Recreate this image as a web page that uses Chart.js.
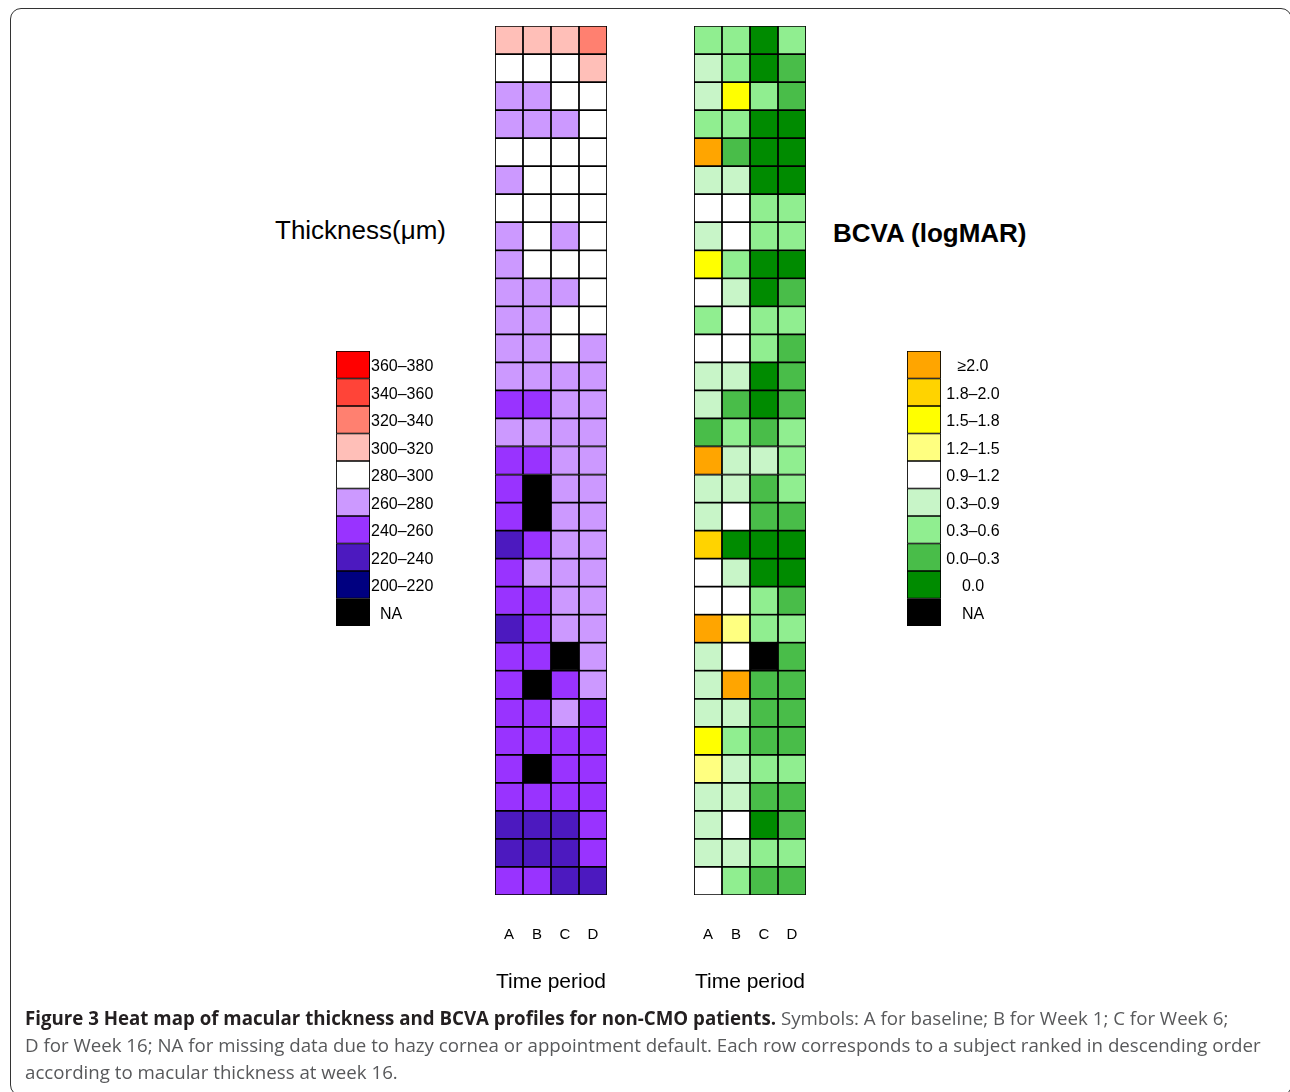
<!DOCTYPE html>
<html>
<head>
<meta charset="utf-8">
<script src="https://cdn.jsdelivr.net/npm/chart.js@4.4.0/dist/chart.umd.min.js"></script>
<style>
body{margin:0;background:#fff;width:1290px;height:1092px;overflow:hidden;position:relative;font-family:"Liberation Sans",Arial,sans-serif;}
.frame{position:absolute;left:10px;top:8px;width:1282px;height:1088px;border:1.5px solid #333;border-radius:11px;box-sizing:border-box;}
.box{position:absolute;}
.ttl{position:absolute;font-size:26px;color:#000;white-space:nowrap;line-height:1;}
.caption{position:absolute;left:25px;top:1004px;font-family:"Open Sans",sans-serif;font-size:18.7px;line-height:27px;color:#58595b;white-space:nowrap;}
.caption b{color:#231f20;}
</style>
</head>
<body>
<div class="frame"></div>

<div class="ttl" style="left:275px;top:217px;">Thickness(μm)</div>
<div class="ttl" style="left:833px;top:220px;font-weight:bold;">BCVA (logMAR)</div>

<div class="box" style="left:455px;top:16px;width:192px;height:990px;"><canvas id="thickChart"></canvas></div>
<div class="box" style="left:654px;top:16px;width:192px;height:990px;"><canvas id="bcvaChart"></canvas></div>
<div class="box" style="left:326px;top:341px;width:130px;height:294px;"><canvas id="thickLegend"></canvas></div>
<div class="box" style="left:897px;top:341px;width:130px;height:294px;"><canvas id="bcvaLegend"></canvas></div>

<div class="caption"><b>Figure 3 Heat map of macular thickness and BCVA profiles for non-CMO patients.</b> Symbols: A for baseline; B for Week 1; C for Week 6;<br>D for Week 16; NA for missing data due to hazy cornea or appointment default. Each row corresponds to a subject ranked in descending order<br>according to macular thickness at week 16.</div>

<script>
// time periods (columns)
var periods = ['A', 'B', 'C', 'D'];

// thickness classes, lower bound of each 20 um band (ascending)
var thickBins = [200, 220, 240, 260, 280, 300, 320, 340, 360];
var thickLabels = ['200–220', '220–240', '240–260', '260–280', '280–300', '300–320', '320–340', '340–360', '360–380'];
var thickColors = ['#000080', '#4c19bf', '#9933ff', '#cc99ff', '#ffffff', '#ffbfb8', '#ff8070', '#ff4438', '#ff0000'];

// thickness per subject (rows top to bottom), null = NA
var thickA = [300,280,260,260,280,260,280,260,260,260,260,260,260,240,260,240,240,240,220,240,240,220,240,240,240,240,240,240,220,220,240];
var thickB = [300,280,260,260,280,280,280,280,280,260,260,260,260,240,260,240,null,null,240,260,240,240,240,null,240,240,null,240,220,220,240];
var thickC = [300,280,280,260,280,280,280,260,280,260,280,280,260,260,260,260,260,260,260,260,260,260,null,240,260,240,240,240,220,220,220];
var thickD = [320,300,280,280,280,280,280,280,280,280,280,260,260,260,260,260,260,260,260,260,260,260,260,260,240,240,240,240,240,240,220];

// BCVA classes (ascending), value in rows = index of class
var bcvaLabels = ['0.0', '0.0–0.3', '0.3–0.6', '0.3–0.9', '0.9–1.2', '1.2–1.5', '1.5–1.8', '1.8–2.0', '≥2.0'];
var bcvaColors = ['#008b00', '#49bd49', '#90ee90', '#c8f5c8', '#ffffff', '#ffff80', '#ffff00', '#ffd300', '#ffa500'];

var bcvaA = [2,3,3,2,8,3,4,3,6,4,2,4,3,3,1,8,3,3,7,4,4,8,3,3,3,6,5,3,3,3,4];
var bcvaB = [2,2,6,2,1,3,4,4,2,3,4,4,3,1,2,3,3,4,0,3,4,5,4,8,3,2,3,3,4,3,2];
var bcvaC = [0,0,2,0,0,0,2,2,0,0,2,2,0,0,1,3,1,1,0,0,2,2,null,1,1,1,2,1,0,2,1];
var bcvaD = [2,1,1,0,0,0,2,2,0,1,2,1,1,1,2,2,2,1,0,0,1,2,1,1,1,1,2,1,1,2,1];

var naLabel = 'NA';
var naColor = '#000000';

var FONT = '"Liberation Sans", Arial, sans-serif';

function thickColor(v){
	if (v === null) return naColor;
	return thickColors[thickBins.indexOf(v)];
}
function bcvaColor(v){
	if (v === null) return naColor;
	return bcvaColors[v];
}

// one dataset per subject row, every cell is a stacked bar of height 1
function rowsToDatasets(cols, colorFn){
	var ds = [];
	for (var r = 0; r < cols[0].length; r++){
		var colors = [];
		var vals = [];
		for (var c = 0; c < cols.length; c++){
			colors.push(colorFn(cols[c][r]));
			vals.push(1);
		}
		ds.push({
			data: vals,
			backgroundColor: colors,
			borderColor: '#000',
			borderWidth: 1.2,
			borderSkipped: false,
			categoryPercentage: 1,
			barPercentage: 1
		});
	}
	return ds;
}

function heatmap(id, cols, colorFn){
	var ctx = document.getElementById(id);
	return new Chart(ctx, {
		type: 'bar',
		data: {
			labels: periods,
			datasets: rowsToDatasets(cols, colorFn)
		},
		options: {
			responsive: true,
			maintainAspectRatio: false,
			animation: false,
			events: [],
			layout: { padding: { left: 40, right: 40, top: 10, bottom: 0 } },
			plugins: { legend: { display: false }, tooltip: { enabled: false } },
			scales: {
				x: {
					stacked: true,
					grid: { display: false, drawTicks: false },
					border: { display: false },
					ticks: { color: '#000', font: { family: FONT, size: 15 }, padding: 31 },
					title: { display: true, text: 'Time period', color: '#000', font: { family: FONT, size: 21 }, padding: { top: 0, bottom: 11 } },
					afterFit: function(scale){ scale.height = 111; }
				},
				y: {
					stacked: true,
					display: false,
					reverse: true,
					min: 0,
					max: cols[0].length
				}
			}
		}
	});
}

// legend text next to the swatches
var legendText = {
	id: 'legendText',
	afterDraw: function(chart, args, opts){
		var ctx = chart.ctx;
		var y = chart.scales.y;
		ctx.save();
		ctx.fillStyle = '#000';
		ctx.font = '16px ' + FONT;
		ctx.textBaseline = 'middle';
		for (var i = 0; i < opts.labels.length; i++){
			var lab = opts.labels[i];
			var py = y.getPixelForValue(i + 0.5) + 2;
			if (opts.align === 'center'){
				ctx.textAlign = 'center';
				ctx.fillText(lab, chart.chartArea.right + opts.offset, py);
			} else {
				ctx.textAlign = 'left';
				var off = lab === naLabel ? opts.naOffset : 1;
				ctx.fillText(lab, chart.chartArea.right + off, py);
			}
		}
		ctx.restore();
	}
};

function legendChart(id, labels, colors, align){
	var ds = [];
	for (var i = 0; i < labels.length; i++){
		ds.push({
			data: [1],
			backgroundColor: colors[i],
			borderColor: '#000',
			borderWidth: 1.2,
			borderSkipped: false,
			categoryPercentage: 1,
			barPercentage: 1
		});
	}
	var ctx = document.getElementById(id);
	return new Chart(ctx, {
		type: 'bar',
		data: { labels: [''], datasets: ds },
		plugins: [legendText],
		options: {
			responsive: true,
			maintainAspectRatio: false,
			animation: false,
			events: [],
			layout: { padding: { left: 10, right: 86, top: 10, bottom: 9 } },
			plugins: {
				legend: { display: false },
				tooltip: { enabled: false },
				legendText: { labels: labels, align: align, offset: 32, naOffset: 10 }
			},
			scales: {
				x: { stacked: true, display: false },
				y: { stacked: true, display: false, reverse: true, min: 0, max: labels.length }
			}
		}
	});
}

heatmap('thickChart', [thickA, thickB, thickC, thickD], thickColor);
heatmap('bcvaChart', [bcvaA, bcvaB, bcvaC, bcvaD], bcvaColor);

legendChart('thickLegend', thickLabels.slice().reverse().concat([naLabel]), thickColors.slice().reverse().concat([naColor]), 'left');
legendChart('bcvaLegend', bcvaLabels.slice().reverse().concat([naLabel]), bcvaColors.slice().reverse().concat([naColor]), 'center');
</script>
</body>
</html>
